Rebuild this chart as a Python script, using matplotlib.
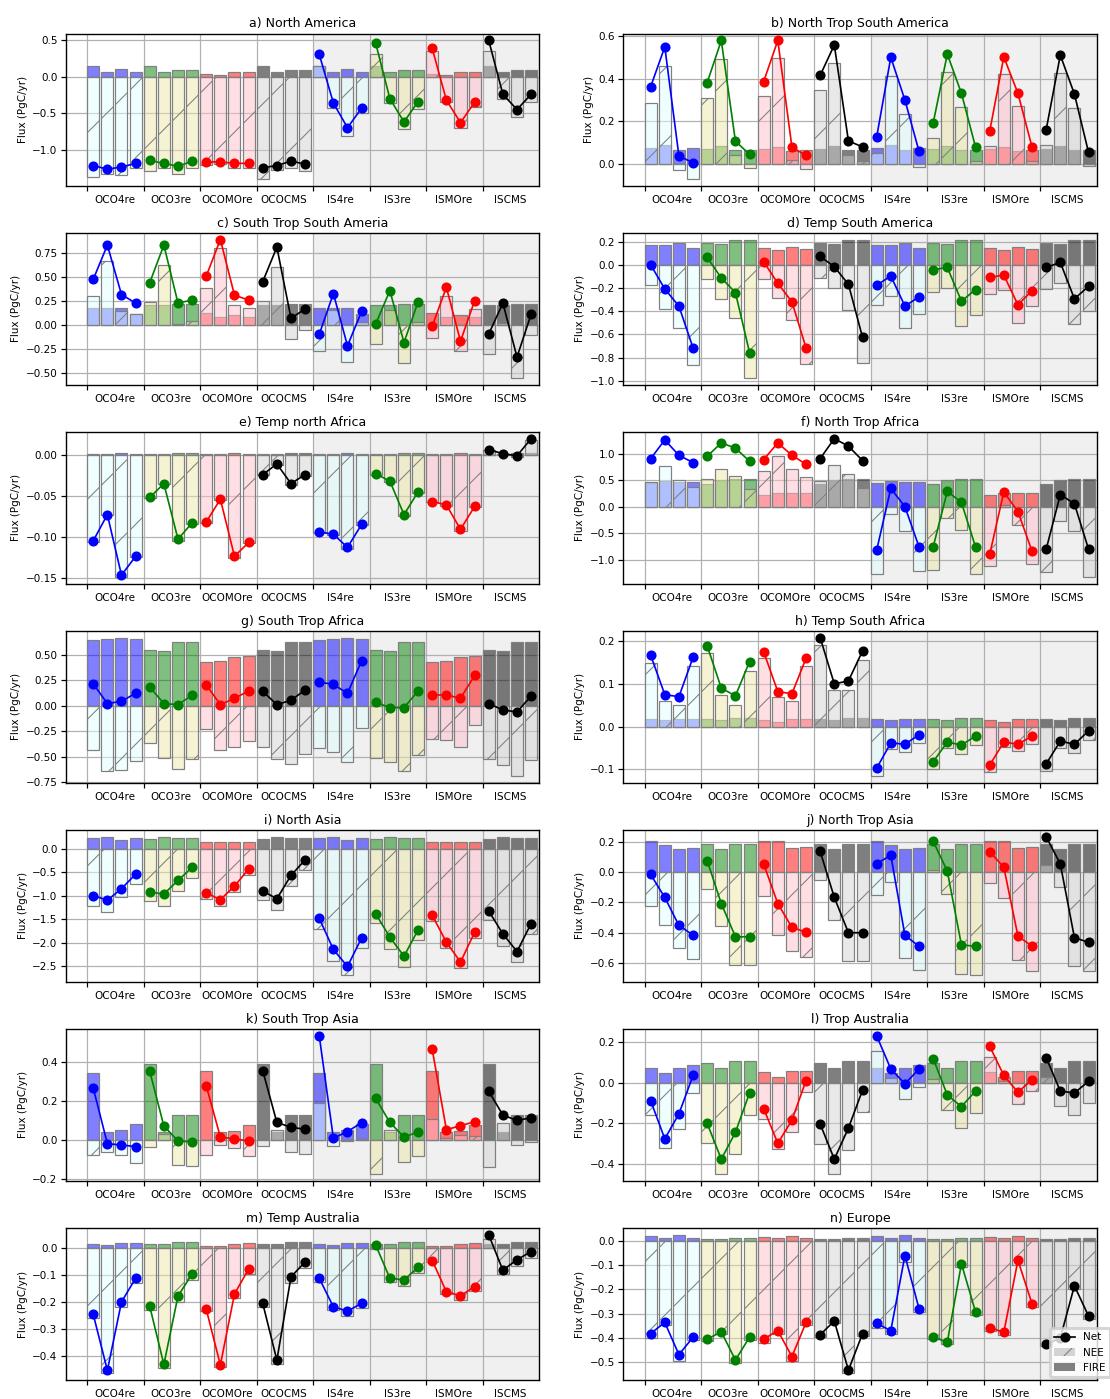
import matplotlib
matplotlib.use("Agg")
import matplotlib.pyplot as plt
from matplotlib.colors import to_rgba
from matplotlib.lines import Line2D
from matplotlib.patches import Patch
from matplotlib.ticker import MaxNLocator

inversions = ['OCO4re', 'OCO3re', 'OCOMOre', 'OCOCMS', 'IS4re', 'IS3re', 'ISMOre', 'ISCMS']
net_colors = ['blue', 'green', 'red', 'black']
nee_colors = ['lightcyan', 'palegoldenrod', 'pink', 'lightgray']

titles = ['a) North America', 'b) North Trop South America',
          'c) South Trop South Ameria', 'd) Temp South America',
          'e) Temp north Africa', 'f) North Trop Africa',
          'g) South Trop Africa', 'h) Temp South Africa',
          'i) North Asia', 'j) North Trop Asia',
          'k) South Trop Asia', 'l) Trop Australia',
          'm) Temp Australia', 'n) Europe']

# fire emissions per prior model (4re, 3re, MOre, CMS) x 4 years, shared by OCO and IS runs
# net flux per inversion (8) x 4 years; NEE = net - fire
fire_a = [[0.155, 0.07, 0.11, 0.07], [0.15, 0.06, 0.10, 0.10], [0.04, 0.03, 0.07, 0.06], [0.15, 0.06, 0.10, 0.10]]
net_a = [[-1.22, -1.27, -1.24, -1.19], [-1.15, -1.19, -1.23, -1.16], [-1.17, -1.17, -1.19, -1.19],
         [-1.25, -1.22, -1.16, -1.20], [0.31, -0.36, -0.70, -0.43], [0.46, -0.30, -0.62, -0.34],
         [0.39, -0.32, -0.63, -0.35], [0.50, -0.24, -0.45, -0.24]]

fire_b = [[0.075, 0.09, 0.065, 0.075], [0.07, 0.085, 0.065, 0.065], [0.07, 0.08, 0.06, 0.065], [0.07, 0.085, 0.065, 0.065]]
net_b = [[0.362, 0.549, 0.036, 0.005], [0.381, 0.579, 0.106, 0.044], [0.386, 0.579, 0.078, 0.039],
         [0.415, 0.558, 0.107, 0.079], [0.126, 0.50, 0.299, 0.058], [0.191, 0.515, 0.331, 0.078],
         [0.152, 0.502, 0.331, 0.078], [0.16, 0.51, 0.327, 0.053]]

fire_c = [[0.17, 0.17, 0.17, 0.11], [0.205, 0.205, 0.215, 0.215], [0.12, 0.086, 0.106, 0.086], [0.205, 0.205, 0.215, 0.215]]
net_c = [[0.473, 0.829, 0.315, 0.226], [0.438, 0.829, 0.226, 0.257], [0.507, 0.887, 0.308, 0.257],
         [0.449, 0.808, 0.068, 0.164], [-0.10, 0.325, -0.219, 0.14], [0.01, 0.356, -0.185, 0.24],
         [-0.014, 0.39, -0.171, 0.25], [-0.096, 0.226, -0.336, 0.11]]

fire_d = [[0.171, 0.171, 0.189, 0.146], [0.189, 0.18, 0.217, 0.217], [0.146, 0.129, 0.154, 0.137], [0.189, 0.18, 0.217, 0.217]]
net_d = [[0.0, -0.209, -0.357, -0.717], [0.063, -0.114, -0.24, -0.757], [0.026, -0.16, -0.32, -0.717],
         [0.071, -0.017, -0.169, -0.626], [-0.177, -0.097, -0.357, -0.277], [-0.043, -0.023, -0.314, -0.214],
         [-0.109, -0.089, -0.346, -0.223], [-0.023, 0.02, -0.294, -0.186]]

fire_e = [[0.001, 0.001, 0.002, 0.001], [0.001, 0.001, 0.002, 0.002], [0.001, 0.001, 0.002, 0.001], [0.001, 0.001, 0.002, 0.002]]
net_e = [[-0.105, -0.073, -0.147, -0.124], [-0.052, -0.035, -0.103, -0.083], [-0.082, -0.054, -0.124, -0.107],
         [-0.024, -0.011, -0.035, -0.024], [-0.094, -0.097, -0.113, -0.085], [-0.023, -0.032, -0.073, -0.045],
         [-0.057, -0.061, -0.091, -0.063], [0.0065, 0.0016, -0.001, 0.02]]

fire_f = [[0.444, 0.49, 0.46, 0.46], [0.426, 0.5, 0.52, 0.52], [0.222, 0.25, 0.25, 0.25], [0.426, 0.5, 0.52, 0.52]]
net_f = [[0.907, 1.259, 0.969, 0.833], [0.951, 1.204, 1.105, 0.858], [0.889, 1.204, 0.969, 0.802],
         [0.907, 1.284, 1.142, 0.87], [-0.821, 0.346, 0.0, -0.759], [-0.759, 0.29, 0.08, -0.759],
         [-0.901, 0.278, -0.093, -0.84], [-0.802, 0.228, 0.056, -0.802]]

fire_g = [[0.65, 0.66, 0.67, 0.66], [0.546, 0.536, 0.627, 0.627], [0.431, 0.444, 0.477, 0.487], [0.546, 0.536, 0.627, 0.627]]
net_g = [[0.219, 0.023, 0.046, 0.124], [0.186, 0.023, 0.013, 0.105], [0.206, 0.013, 0.075, 0.147],
         [0.144, 0.013, 0.056, 0.157], [0.235, 0.212, 0.124, 0.444], [0.036, -0.016, -0.016, 0.147],
         [0.108, 0.108, 0.075, 0.30], [0.023, -0.039, -0.059, 0.098]]

fire_h = [[0.018, 0.015, 0.019, 0.019], [0.017, 0.015, 0.021, 0.021], [0.015, 0.012, 0.017, 0.019], [0.017, 0.015, 0.021, 0.021]]
net_h = [[0.167, 0.075, 0.07, 0.162], [0.189, 0.09, 0.072, 0.152], [0.175, 0.082, 0.077, 0.16],
         [0.208, 0.10, 0.107, 0.177], [-0.097, -0.038, -0.041, -0.019], [-0.082, -0.036, -0.043, -0.022],
         [-0.09, -0.036, -0.041, -0.022], [-0.087, -0.034, -0.041, -0.01]]

fire_i = [[0.22, 0.25, 0.18, 0.22], [0.20, 0.25, 0.22, 0.22], [0.13, 0.13, 0.13, 0.13], [0.20, 0.25, 0.22, 0.22]]
net_i = [[-1.0, -1.1, -0.855, -0.544], [-0.926, -0.968, -0.678, -0.403], [-0.947, -1.088, -0.799, -0.438],
         [-0.905, -1.067, -0.572, -0.24], [-1.484, -2.148, -2.509, -1.901], [-1.392, -1.887, -2.29, -1.731],
         [-1.42, -1.993, -2.417, -1.781], [-1.329, -1.816, -2.191, -1.597]]

fire_j = [[0.21, 0.18, 0.151, 0.158], [0.19, 0.151, 0.19, 0.19], [0.21, 0.206, 0.158, 0.164], [0.19, 0.151, 0.19, 0.19]]
net_j = [[-0.015, -0.167, -0.353, -0.417], [0.077, -0.208, -0.428, -0.428], [0.055, -0.208, -0.366, -0.397],
         [0.138, -0.167, -0.401, -0.401], [0.057, 0.112, -0.419, -0.491], [0.206, 0.007, -0.482, -0.491],
         [0.136, 0.033, -0.423, -0.491], [0.235, 0.055, -0.434, -0.465]]

fire_k = [[0.346, 0.041, 0.051, 0.083], [0.388, 0.041, 0.126, 0.126], [0.356, 0.041, 0.046, 0.075], [0.388, 0.041, 0.126, 0.126]]
net_k = [[0.267, -0.019, -0.026, -0.034], [0.353, 0.072, -0.005, -0.01], [0.278, 0.015, 0.005, -0.005],
         [0.356, 0.09, 0.065, 0.055], [0.535, 0.009, 0.043, 0.089], [0.213, 0.09, 0.015, 0.041],
         [0.465, 0.053, 0.073, 0.094], [0.25, 0.128, 0.10, 0.114]]

fire_l = [[0.073, 0.046, 0.073, 0.088], [0.098, 0.073, 0.107, 0.107], [0.052, 0.026, 0.057, 0.057], [0.098, 0.073, 0.107, 0.107]]
net_l = [[-0.088, -0.276, -0.153, 0.036], [-0.20, -0.376, -0.244, -0.05], [-0.127, -0.298, -0.184, 0.011],
         [-0.203, -0.376, -0.223, -0.036], [0.231, 0.068, -0.005, 0.068], [0.119, -0.06, -0.117, -0.041],
         [0.18, 0.036, -0.047, 0.016], [0.124, -0.041, -0.05, 0.007]]

fire_m = [[0.015, 0.01, 0.018, 0.018], [0.015, 0.015, 0.022, 0.022], [0.007, 0.007, 0.015, 0.018], [0.015, 0.015, 0.022, 0.022]]
net_m = [[-0.246, -0.454, -0.20, -0.112], [-0.216, -0.432, -0.178, -0.096], [-0.227, -0.434, -0.17, -0.078],
         [-0.205, -0.416, -0.107, -0.051], [-0.112, -0.218, -0.234, -0.205], [0.011, -0.112, -0.118, -0.071],
         [-0.046, -0.162, -0.177, -0.143], [0.049, -0.082, -0.043, -0.013]]

fire_n = [[0.02, 0.012, 0.025, 0.012], [0.008, 0.008, 0.012, 0.012], [0.016, 0.012, 0.02, 0.012], [0.008, 0.008, 0.012, 0.012]]
net_n = [[-0.382, -0.336, -0.469, -0.397], [-0.405, -0.375, -0.491, -0.397], [-0.405, -0.37, -0.477, -0.336],
         [-0.387, -0.33, -0.533, -0.382], [-0.34, -0.37, -0.06, -0.28], [-0.397, -0.417, -0.094, -0.293],
         [-0.357, -0.377, -0.08, -0.259], [-0.427, -0.40, -0.185, -0.31]]

fires = [fire_a, fire_b, fire_c, fire_d, fire_e, fire_f, fire_g,
         fire_h, fire_i, fire_j, fire_k, fire_l, fire_m, fire_n]
nets = [net_a, net_b, net_c, net_d, net_e, net_f, net_g,
        net_h, net_i, net_j, net_k, net_l, net_m, net_n]

plt.rcParams.update({
    'font.size': 3.4,
    'axes.linewidth': 0.45,
    'grid.linewidth': 0.4,
    'grid.color': '#b0b0b0',
    'xtick.major.width': 0.4,
    'ytick.major.width': 0.4,
    'xtick.major.size': 1.6,
    'ytick.major.size': 1.6,
    'xtick.major.pad': 1.2,
    'ytick.major.pad': 1.2,
    'hatch.linewidth': 0.35,
    'hatch.color': 'gray',
})

dpi = 220
fig, axes = plt.subplots(7, 2, figsize=(1110 / dpi, 1399 / dpi), dpi=dpi)
fig.subplots_adjust(left=0.0595, right=0.988, top=0.976, bottom=0.0136,
                    wspace=0.178, hspace=0.31)

width = 0.85
for ax, title, fire, net in zip(axes.flat, titles, fires, nets):
    # IS runs on grey background
    ax.axvspan(16, 32, color='#f0f0f0', lw=0, zorder=0)
    for g in range(len(inversions)):
        k = g % 4
        x = [4 * g + i for i in range(4)]
        nee = [n - f for n, f in zip(net[g], fire[k])]
        ax.bar(x, fire[k], width, align='edge', color=to_rgba(net_colors[k], 0.5),
               edgecolor='gray', linewidth=0.4, zorder=2)
        ax.bar(x, nee, width, align='edge', color=to_rgba(nee_colors[k], 0.5),
               edgecolor='gray', linewidth=0.4, hatch='/', zorder=3)
        xc = [xi + width / 2 for xi in x]
        ax.plot(xc, net[g], '-o', color=net_colors[k], lw=0.55, ms=2.3, zorder=4)

    ax.set_xlim(-1.5, 32)
    ax.set_xticks([4 * g for g in range(8)])
    ax.set_xticklabels([])
    ax.set_xticks([4 * g + 1.925 for g in range(8)], minor=True)
    ax.set_xticklabels(inversions, minor=True)
    ax.tick_params(axis='x', which='minor', length=0, pad=3.0)
    ax.yaxis.set_major_locator(MaxNLocator(nbins=7, steps=[1, 2, 2.5, 5, 10]))
    ax.grid(True, which='major')
    ax.set_axisbelow(True)
    ax.set_ylabel('Flux (PgC/yr)', labelpad=1.5)
    ax.set_title(title, pad=2)

handles = [Line2D([], [], color='black', marker='o', lw=0.55, ms=2.3),
           Patch(facecolor='lightgray', hatch='/'),
           Patch(facecolor='gray')]
axes[-1, -1].legend(handles, ['Net', 'NEE', 'FIRE'], loc='lower right',
                    bbox_to_anchor=(1.035, 0.0), borderaxespad=0.3)

fig.savefig('out.png', dpi=dpi)
plt.close(fig)
